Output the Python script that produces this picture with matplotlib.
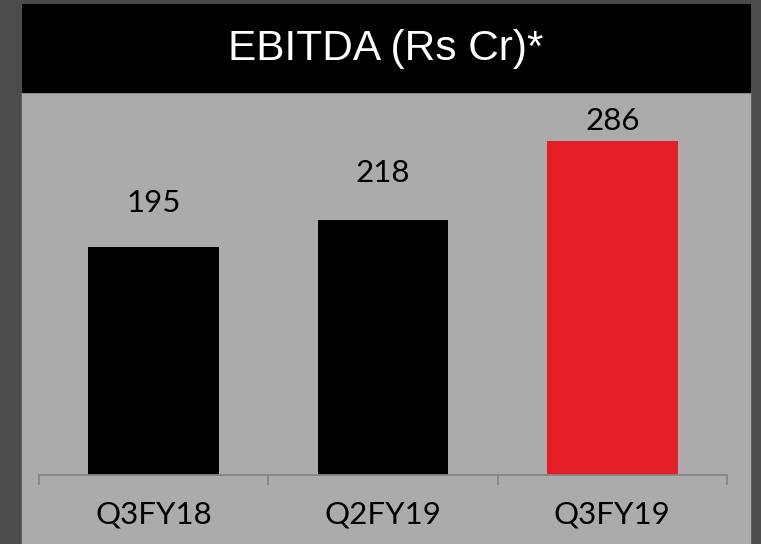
import matplotlib
matplotlib.use("Agg")
import matplotlib.pyplot as plt
from matplotlib.patches import Rectangle

# chart data
categories = ["Q3FY18", "Q2FY19", "Q3FY19"]
ebitda = [195, 218, 286]
bar_colors = ["#000000", "#000000", "#e41e26"]
title = "EBITDA (Rs Cr)*"

# label lift above each bar (points), as placed in the original slide
label_lift = [32, 34, 14.5]

W, H = 761, 544
fig = plt.figure(figsize=(W / 100, H / 100), dpi=100)
fig.patch.set_facecolor("#4b4b4b")


def fx(px):
    return px / W


def fy(py):
    return 1 - py / H


# light panel and black title strip (behind the axes)
fig.patches.append(Rectangle((fx(22), 0), fx(750) - fx(22), fy(4),
                             transform=fig.transFigure, color="#ababab", zorder=-2))
fig.patches.append(Rectangle((fx(22), fy(92)), fx(750) - fx(22), fy(4) - fy(92),
                             transform=fig.transFigure, color="#000000", zorder=-1))
fig.text(fx(386), fy(60), title, ha="center", va="baseline",
         color="white", fontsize=30.5, family="Liberation Sans")

ax = fig.add_axes([fx(39), fy(475), fx(727) - fx(39), fy(92) - fy(475)])
ax.set_zorder(1)
ax.set_facecolor("none")
x = range(len(categories))
bars = ax.bar(x, ebitda, width=0.57, color=bar_colors, linewidth=0, zorder=2)
ax.set_xlim(-0.5, 2.5)
ax.set_ylim(0, 383 / 1.169)

for b, v, lift in zip(bars, ebitda, label_lift):
    ax.annotate(str(v), (b.get_x() + b.get_width() / 2, v),
                xytext=(0, lift), textcoords="offset points",
                ha="center", va="center", fontsize=22.5, family="Lato", color="black")

for s in ["top", "right", "left"]:
    ax.spines[s].set_visible(False)
ax.spines["bottom"].set_color("#858585")
ax.spines["bottom"].set_linewidth(1.3)
ax.set_yticks([])
ax.set_xticks([-0.5, 0.5, 1.5, 2.5])
ax.set_xticklabels([])
ax.set_xticks(list(x), minor=True)
ax.set_xticklabels(categories, minor=True, fontsize=22.5, family="Lato")
ax.tick_params(axis="x", which="major", length=7.5, width=1.3, color="#858585")
ax.tick_params(axis="x", which="minor", length=0, pad=18.5)

fig.savefig("out.png", dpi=100, facecolor=fig.get_facecolor())
